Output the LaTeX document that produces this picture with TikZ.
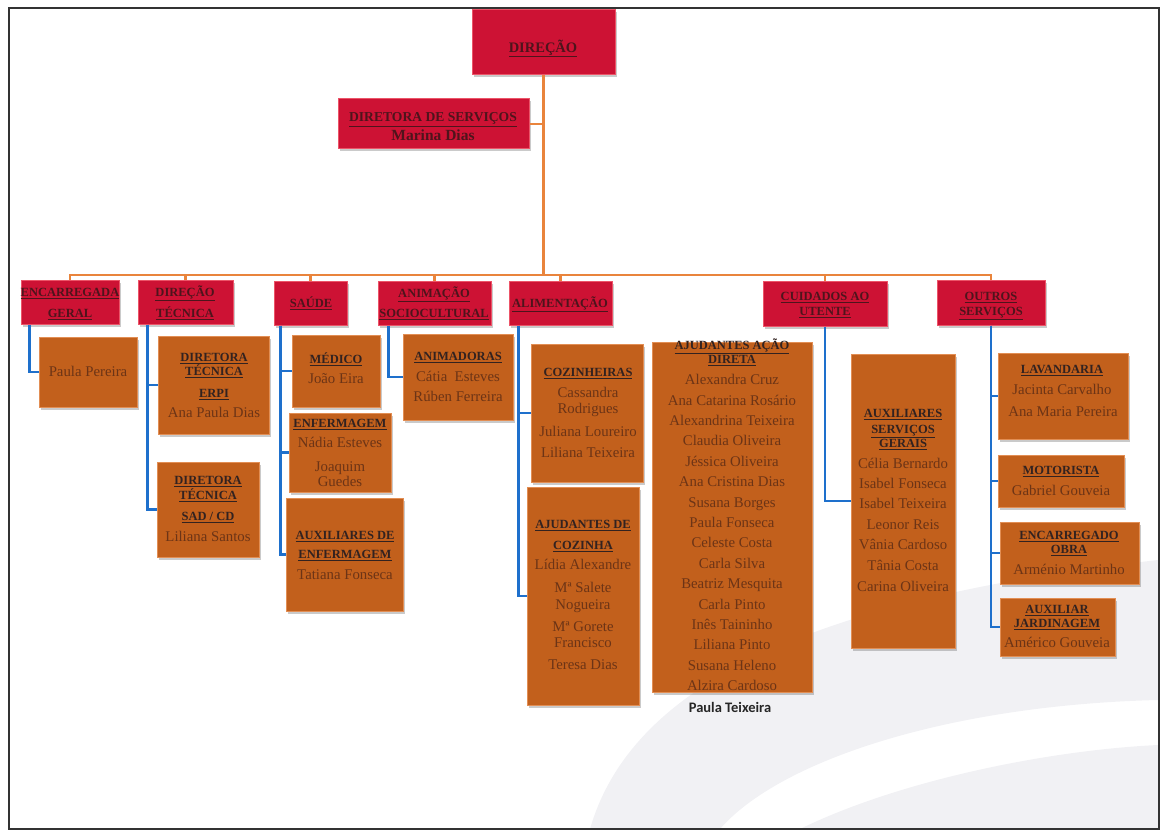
\documentclass[tikz,border=0pt]{standalone}
\usepackage{fontspec}
\setmainfont{Liberation Serif}
\newfontfamily\calibri{Carlito}
\usetikzlibrary{fit,shadows}
\definecolor{boxred}{RGB}{205,18,52}
\definecolor{boxredE}{RGB}{236,84,104}
\definecolor{boxor}{RGB}{194,96,28}
\definecolor{boxorE}{RGB}{226,142,84}
\definecolor{redtxt}{RGB}{78,20,28}
\definecolor{ttltxt}{RGB}{50,34,32}
\definecolor{nmtxt}{RGB}{108,52,22}
\definecolor{orline}{RGB}{233,132,60}
\definecolor{blline}{RGB}{30,112,204}
\definecolor{wmark}{RGB}{241,241,244}
\newcommand\mkbox[6]{\node[#2, fit={(#3,#4)(#5,#6)}] (#1) {};}
\newcommand\mkttl[5]{\node[#2] (#1) at (#3,#4) {\underline{#5}};}
\newcommand\mknm[4]{\node[nm] (#1) at (#2,#3) {#4};}
\begin{document}
\begin{tikzpicture}[x=1pt,y=-1pt,
  rbox/.style={fill=boxred, draw=boxredE, line width=1pt, inner sep=0pt,
    drop shadow={shadow xshift=1.5pt, shadow yshift=-2.5pt, opacity=.35, fill=black!60}},
  obox/.style={fill=boxor, draw=boxorE, line width=1pt, inner sep=0pt,
    drop shadow={shadow xshift=1.5pt, shadow yshift=-2.5pt, opacity=.35, fill=black!60}},
  rt/.style={anchor=base, yshift=-4.3pt, inner sep=0pt, text=redtxt,
    font=\fontsize{12.5}{13}\selectfont\bfseries},
  rtb/.style={rt, yshift=-4.8pt, font=\fontsize{14.5}{15}\selectfont\bfseries},
  rtm/.style={rt, yshift=-4.6pt, font=\fontsize{13.6}{14}\selectfont\bfseries},
  ot/.style={anchor=base, yshift=-4.3pt, inner sep=0pt, text=ttltxt,
    font=\fontsize{12.5}{13}\selectfont\bfseries},
  rn/.style={anchor=base, yshift=-5pt, inner sep=0pt, text=redtxt,
    font=\fontsize{15.5}{16}\selectfont\bfseries},
  nm/.style={anchor=base, yshift=-4.6pt, inner sep=0pt, text=nmtxt,
    font=\fontsize{14.8}{15}\selectfont},
  ol/.style={draw=orline, line width=2.5pt},
  bl/.style={draw=blline, line width=2.5pt}]
\useasboundingbox (0,0) rectangle (1167,832);
% watermark
\fill[wmark] (590,829) .. controls (630,690) and (800,600) .. (1158,560)
  -- (1158,700) .. controls (950,705) and (780,760) .. (720,829) -- cycle;
\fill[wmark] (800,829) .. controls (900,780) and (1050,750) .. (1158,745)
  -- (1158,829) -- cycle;
% frame
\draw[line width=1.5pt, black!80] (9,8) rectangle (1159,829);

% boxes
\mkbox{dir}{rbox}{472}{10}{615}{75}
\mkbox{dserv}{rbox}{338}{99}{529}{149}
\mkbox{enc}{rbox}{21}{280}{119}{324}
\mkbox{dt}{rbox}{138}{280}{233}{324}
\mkbox{sau}{rbox}{274}{281}{347}{325}
\mkbox{anim}{rbox}{378}{281}{491}{325}
\mkbox{alim}{rbox}{509}{281}{612}{325}
\mkbox{cuid}{rbox}{763}{281}{887}{326}
\mkbox{out}{rbox}{937}{280}{1045}{325}

\mkbox{pp}{obox}{39}{337}{137}{407}
\mkbox{erpi}{obox}{158}{336}{269}{434}
\mkbox{sad}{obox}{157}{462}{259}{557}
\mkbox{med}{obox}{292}{335}{380}{407}
\mkbox{enf}{obox}{289}{413}{391}{492}
\mkbox{aenf}{obox}{286}{498}{403}{611}
\mkbox{animd}{obox}{403}{334}{513}{420}
\mkbox{coz}{obox}{531}{344}{643}{482}
\mkbox{ajc}{obox}{527}{487}{639}{705}
\mkbox{ajd}{obox}{652}{342}{812}{692}
\mkbox{asg}{obox}{851}{354}{955}{648}
\mkbox{lav}{obox}{998}{353}{1128}{439}
\mkbox{mot}{obox}{998}{455}{1124}{507}
\mkbox{eob}{obox}{1000}{522}{1139}{584}
\mkbox{jard}{obox}{1000}{598}{1115}{656}

% orange connectors
\coordinate (hub) at (dir.south |- 0,275);
\draw[ol] (dir.south) -- (hub);
\draw[ol] (dserv.east) -- (dserv.east -| hub);
\foreach \n in {enc,dt,sau,anim,alim,cuid,out} \draw[ol] (hub) -| (\n.north);

% blue connectors
\draw[bl] ([xshift=9pt]enc.south west) |- (pp.west);
\draw[bl] ([xshift=10pt]dt.south west) |- (erpi.west);
\draw[bl] ([xshift=10pt]dt.south west) |- (sad.west);
\foreach \n in {med,enf,aenf} \draw[bl] ([xshift=7pt]sau.south west) |- (\n.west);
\draw[bl] ([xshift=11pt]anim.south west) |- (animd.west);
\foreach \n in {coz,ajc} \draw[bl] ([xshift=10pt]alim.south west) |- (\n.west);
\draw[bl] (cuid.south) |- (asg.west);
\foreach \n in {lav,mot,eob,jard} \draw[bl] (out.south) |- (\n.west);

% red texts
\mkttl{t-dir}{rtb}{543}{43}{DIREÇÃO}
\mkttl{t-ds1}{rtm}{433}{113}{DIRETORA DE SERVIÇOS}
\node[rn] (t-ds2) at (433,136) {Marina Dias};
\mkttl{t-enc1}{rt}{70}{292}{ENCARREGADA}
\mkttl{t-enc2}{rt}{70}{313}{GERAL}
\mkttl{t-dt1}{rt}{185}{292}{DIREÇÃO}
\mkttl{t-dt2}{rt}{185}{313}{TÉCNICA}
\mkttl{t-sau}{rt}{311}{303}{SAÚDE}
\mkttl{t-an1}{rt}{434}{293}{ANIMAÇÃO}
\mkttl{t-an2}{rt}{434}{313}{SOCIOCULTURAL}
\mkttl{t-al}{rt}{560}{303}{ALIMENTAÇÃO}
\mkttl{t-cu1}{rt}{825}{296}{CUIDADOS AO}
\mkttl{t-cu2}{rt}{825}{311}{UTENTE}
\mkttl{t-ou1}{rt}{991}{296}{OUTROS}
\mkttl{t-ou2}{rt}{991}{311}{SERVIÇOS}

% orange texts
\mknm{n-pp}{88}{372}{Paula Pereira}

\mkttl{t-er1}{ot}{214}{357}{DIRETORA}
\mkttl{t-er2}{ot}{214}{371}{TÉCNICA}
\mkttl{t-er3}{ot}{214}{393}{ERPI}
\mknm{n-er}{214}{413}{Ana Paula Dias}

\mkttl{t-sa1}{ot}{208}{480}{DIRETORA}
\mkttl{t-sa2}{ot}{208}{495}{TÉCNICA}
\mkttl{t-sa3}{ot}{208}{516}{SAD / CD}
\mknm{n-sa}{208}{537}{Liliana Santos}

\mkttl{t-me}{ot}{336}{359}{MÉDICO}
\mknm{n-me}{336}{379}{João Eira}

\mkttl{t-en}{ot}{340}{423}{ENFERMAGEM}
\mknm{n-en1}{340}{443}{Nádia Esteves}
\mknm{n-en2}{340}{467}{Joaquim}
\mknm{n-en3}{340}{482}{Guedes}

\mkttl{t-ae1}{ot}{345}{535}{AUXILIARES DE}
\mkttl{t-ae2}{ot}{345}{554}{ENFERMAGEM}
\mknm{n-ae}{345}{575}{Tatiana Fonseca}

\mkttl{t-am}{ot}{458}{356}{ANIMADORAS}
\mknm{n-am1}{458}{377}{Cátia~~Esteves}
\mknm{n-am2}{458}{397}{Rúben Ferreira}

\mkttl{t-co}{ot}{588}{372}{COZINHEIRAS}
\mknm{n-co1}{588}{393}{Cassandra}
\mknm{n-co2}{588}{409}{Rodrigues}
\mknm{n-co3}{588}{432}{Juliana Loureiro}
\mknm{n-co4}{588}{453}{Liliana Teixeira}

\mkttl{t-ac1}{ot}{583}{524}{AJUDANTES DE}
\mkttl{t-ac2}{ot}{583}{545}{COZINHA}
\mknm{n-ac1}{583}{565}{Lídia Alexandre}
\mknm{n-ac2}{583}{588}{Mª Salete}
\mknm{n-ac3}{583}{605}{Nogueira}
\mknm{n-ac4}{583}{627}{Mª Gorete}
\mknm{n-ac5}{583}{643}{Francisco}
\mknm{n-ac6}{583}{665}{Teresa Dias}

\mkttl{t-ad1}{ot}{732}{345}{AJUDANTES AÇÃO}
\mkttl{t-ad2}{ot}{732}{359}{DIRETA}
\foreach \t [count=\i from 0] in {Alexandra Cruz, Ana Catarina Rosário,
  Alexandrina Teixeira, Claudia Oliveira, Jéssica Oliveira, Ana Cristina Dias,
  Susana Borges, Paula Fonseca, Celeste Costa, Carla Silva, Beatriz Mesquita,
  Carla Pinto, Inês Taininho, Liliana Pinto, Susana Heleno, Alzira Cardoso}
  \node[nm] (n-ad\i) at (732,380+20.4*\i) {\t};
\node[anchor=base, yshift=-4.6pt, inner sep=0pt, text=black!85,
  font=\calibri\fontsize{14.5}{15}\selectfont\bfseries] (n-pt) at (730,708) {Paula Teixeira};

\mkttl{t-as1}{ot}{903}{413}{AUXILIARES}
\mkttl{t-as2}{ot}{903}{429}{SERVIÇOS}
\mkttl{t-as3}{ot}{903}{443}{GERAIS}
\foreach \t/\y [count=\i] in {Célia Bernardo/464, Isabel Fonseca/484,
  Isabel Teixeira/504, Leonor Reis/525, Vânia Cardoso/545, Tânia Costa/566,
  Carina Oliveira/587}
  \node[nm] (n-as\i) at (903,\y) {\t};

\mkttl{t-la}{ot}{1062}{369}{LAVANDARIA}
\mknm{n-la1}{1062}{390}{Jacinta Carvalho}
\mknm{n-la2}{1063}{412}{Ana Maria Pereira}

\mkttl{t-mo}{ot}{1061}{470}{MOTORISTA}
\mknm{n-mo}{1061}{491}{Gabriel Gouveia}

\mkttl{t-eo1}{ot}{1069}{535}{ENCARREGADO}
\mkttl{t-eo2}{ot}{1069}{549}{OBRA}
\mknm{n-eo}{1069}{570}{Arménio Martinho}

\mkttl{t-ja1}{ot}{1057}{609}{AUXILIAR}
\mkttl{t-ja2}{ot}{1057}{623}{JARDINAGEM}
\mknm{n-ja}{1057}{643}{Américo Gouveia}
\end{tikzpicture}
\end{document}
